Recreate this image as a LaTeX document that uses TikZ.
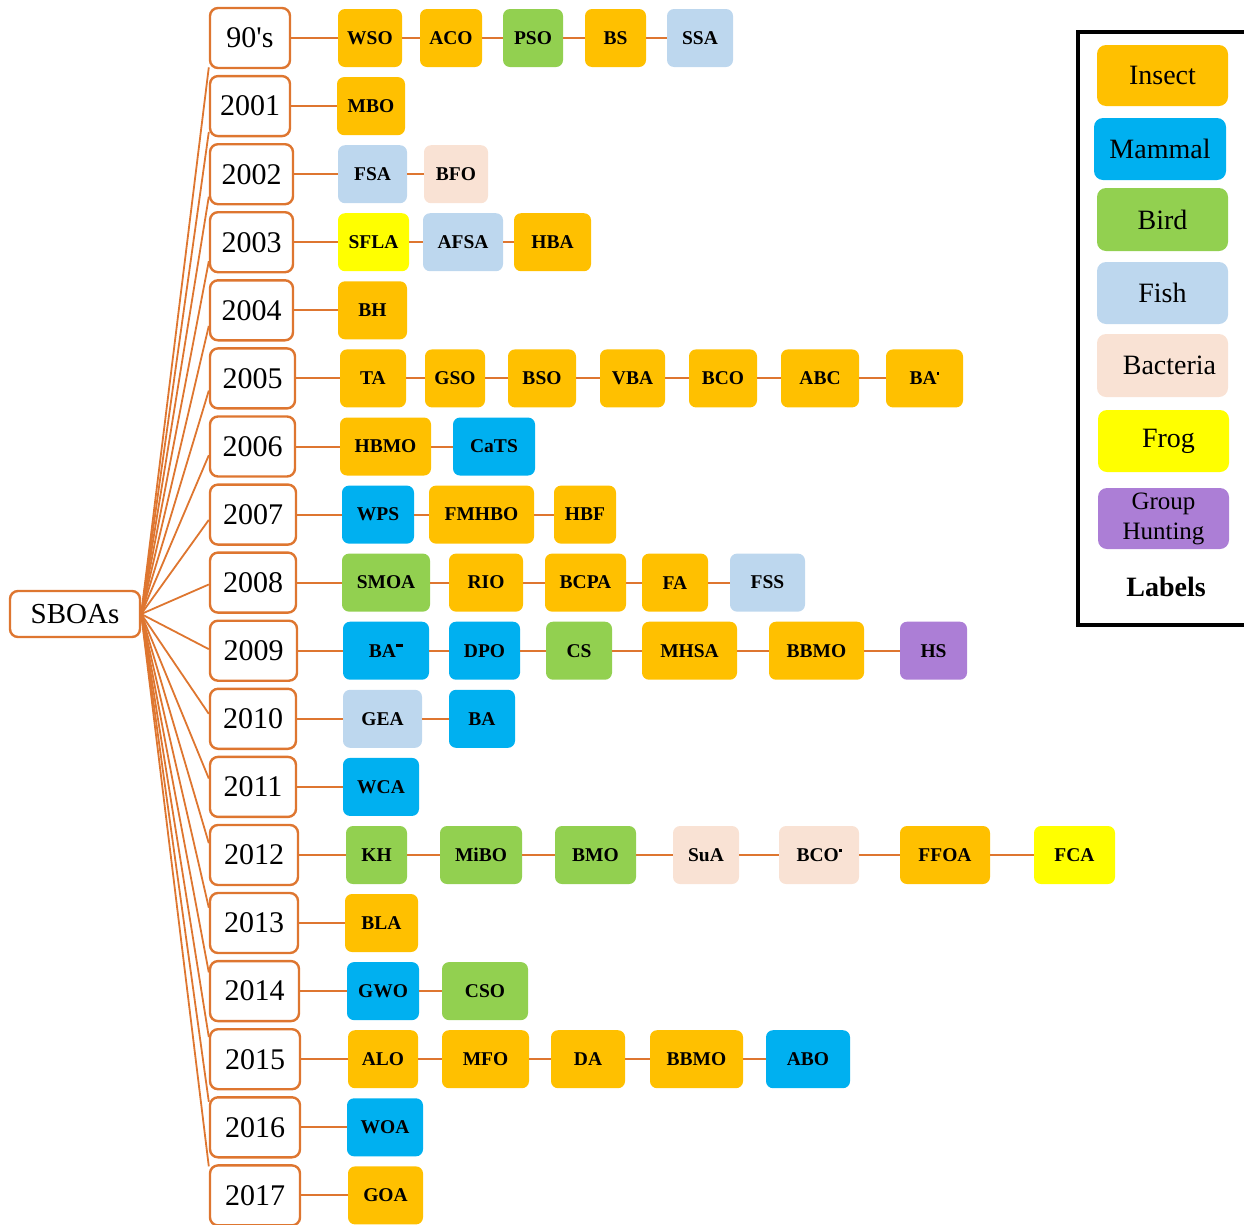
\documentclass[tikz,border=0pt]{standalone}
\usepackage{fontspec}
\setmainfont{Liberation Serif}
\usetikzlibrary{calc}
\definecolor{org}{RGB}{222,118,48}
\definecolor{cIns}{RGB}{255,192,0}
\definecolor{cMam}{RGB}{0,176,240}
\definecolor{cBird}{RGB}{146,208,80}
\definecolor{cFish}{RGB}{189,215,238}
\definecolor{cBac}{RGB}{249,226,212}
\definecolor{cFrog}{RGB}{255,255,0}
\definecolor{cGrp}{RGB}{172,126,214}
\newcommand{\sdot}{\raisebox{0.5em}{\rule{0.14em}{0.14em}}}
\newcommand{\sbar}{\raisebox{0.52em}{\rule{0.38em}{0.14em}}}
\tikzset{
  yr/.style={draw=org, line width=2.4pt, rounded corners=8pt, fill=white, minimum height=60pt, inner sep=0pt, font=\fontsize{30}{34}\selectfont},
  cb/.style={rounded corners=7pt, minimum height=58pt, inner sep=0pt, font=\fontsize{19.5}{22}\selectfont\bfseries},
  ins/.style={cb, fill=cIns}, mam/.style={cb, fill=cMam}, bird/.style={cb, fill=cBird},
  fish/.style={cb, fill=cFish}, bac/.style={cb, fill=cBac}, frog/.style={cb, fill=cFrog}, grp/.style={cb, fill=cGrp},
  lg/.style={rounded corners=9pt, inner sep=0pt, font=\fontsize{28}{32}\selectfont},
  conn/.style={draw=org, line width=2pt},
  fan/.style={draw=org, line width=1.8pt},
}
\begin{document}
\begin{tikzpicture}[x=1pt,y=-1pt]
\useasboundingbox (0,0) rectangle (1244,1224);
% root
\node[yr, minimum width=130pt, minimum height=46pt, font=\fontsize{29}{34}\selectfont] (S) at (75,614) {SBOAs};
% years
\node[yr, minimum width=80pt] (y0) at (250,38) {90\textquotesingle s};
\node[yr, minimum width=80pt] (y1) at (250,106.1) {2001};
\node[yr, minimum width=83pt] (y2) at (251.5,174.2) {2002};
\node[yr, minimum width=83pt] (y3) at (251.5,242.2) {2003};
\node[yr, minimum width=83pt] (y4) at (251.5,310.3) {2004};
\node[yr, minimum width=85pt] (y5) at (252.5,378.4) {2005};
\node[yr, minimum width=85pt] (y6) at (252.5,446.5) {2006};
\node[yr, minimum width=86pt] (y7) at (253,514.6) {2007};
\node[yr, minimum width=86pt] (y8) at (253,582.6) {2008};
\node[yr, minimum width=87pt] (y9) at (253.5,650.7) {2009};
\node[yr, minimum width=86pt] (y10) at (253,718.8) {2010};
\node[yr, minimum width=86pt] (y11) at (253,786.9) {2011};
\node[yr, minimum width=88pt] (y12) at (254,855) {2012};
\node[yr, minimum width=88pt] (y13) at (254,923) {2013};
\node[yr, minimum width=89pt] (y14) at (254.5,991.1) {2014};
\node[yr, minimum width=90pt] (y15) at (255,1059.2) {2015};
\node[yr, minimum width=90pt] (y16) at (255,1127.3) {2016};
\node[yr, minimum width=90pt] (y17) at (255,1195.4) {2017};
% fan
\foreach \i in {0,...,17}{
  \pgfmathsetmacro{\f}{0.03+0.055*\i}
  \draw[fan] (S.east) -- ($(y\i.south west)!\f!(y\i.north west)$);
}
% row 0
\node[ins, minimum width=64pt] (r0a) at (370,38) {WSO};
\node[ins, minimum width=62pt] (r0b) at (451,38) {ACO};
\node[bird, minimum width=60pt] (r0c) at (533,38) {PSO};
\node[ins, minimum width=61pt] (r0d) at (615.5,38) {BS};
\node[fish, minimum width=66pt] (r0e) at (700,38) {SSA};
\draw[conn] (y0) -- (r0a) -- (r0b) -- (r0c) -- (r0d) -- (r0e);
% row 1
\node[ins, minimum width=68pt] (r1a) at (371,106.1) {MBO};
\draw[conn] (y1) -- (r1a);
% row 2
\node[fish, minimum width=69pt] (r2a) at (372.5,174.2) {FSA};
\node[bac, minimum width=64pt] (r2b) at (456,174.2) {BFO};
\draw[conn] (y2) -- (r2a) -- (r2b);
% row 3
\node[frog, minimum width=71pt] (r3a) at (373.5,242.2) {SFLA};
\node[fish, minimum width=80pt] (r3b) at (463,242.2) {AFSA};
\node[ins, minimum width=77pt] (r3c) at (552.5,242.2) {HBA};
\draw[conn] (y3) -- (r3a) -- (r3b) -- (r3c);
% row 4
\node[ins, minimum width=69pt] (r4a) at (372.5,310.3) {BH};
\draw[conn] (y4) -- (r4a);
% row 5
\node[ins, minimum width=66pt] (r5a) at (373,378.4) {TA};
\node[ins, minimum width=60pt] (r5b) at (455,378.4) {GSO};
\node[ins, minimum width=68pt] (r5c) at (542,378.4) {BSO};
\node[ins, minimum width=65pt] (r5d) at (632.5,378.4) {VBA};
\node[ins, minimum width=68pt] (r5e) at (723,378.4) {BCO};
\node[ins, minimum width=78pt] (r5f) at (820,378.4) {ABC};
\node[ins, minimum width=77pt] (r5g) at (924.5,378.4) {BA\sdot};
\draw[conn] (y5) -- (r5a) -- (r5b) -- (r5c) -- (r5d) -- (r5e) -- (r5f) -- (r5g);
% row 6
\node[ins, minimum width=91pt] (r6a) at (385.5,446.5) {HBMO};
\node[mam, minimum width=82pt] (r6b) at (494,446.5) {CaTS};
\draw[conn] (y6) -- (r6a) -- (r6b);
% row 7
\node[mam, minimum width=72pt] (r7a) at (378,514.6) {WPS};
\node[ins, minimum width=105pt] (r7b) at (481.5,514.6) {FMHBO};
\node[ins, minimum width=62pt] (r7c) at (585,514.6) {HBF};
\draw[conn] (y7) -- (r7a) -- (r7b) -- (r7c);
% row 8
\node[bird, minimum width=88pt] (r8a) at (386,582.6) {SMOA};
\node[ins, minimum width=74pt] (r8b) at (486,582.6) {RIO};
\node[ins, minimum width=81pt] (r8c) at (585.5,582.6) {BCPA};
\node[ins, minimum width=66pt] (r8d) at (675,582.6) {FA};
\node[fish, minimum width=75pt] (r8e) at (767.5,582.6) {FSS};
\draw[conn] (y8) -- (r8a) -- (r8b) -- (r8c) -- (r8d) -- (r8e);
% row 9
\node[mam, minimum width=86pt] (r9a) at (386,650.7) {BA\sbar};
\node[mam, minimum width=71pt] (r9b) at (484.5,650.7) {DPO};
\node[bird, minimum width=66pt] (r9c) at (579,650.7) {CS};
\node[ins, minimum width=95pt] (r9d) at (689.5,650.7) {MHSA};
\node[ins, minimum width=95pt] (r9e) at (816.5,650.7) {BBMO};
\node[grp, minimum width=67pt] (r9f) at (933.5,650.7) {HS};
\draw[conn] (y9) -- (r9a) -- (r9b) -- (r9c) -- (r9d) -- (r9e) -- (r9f);
% row 10
\node[fish, minimum width=79pt] (r10a) at (382.5,718.8) {GEA};
\node[mam, minimum width=66pt] (r10b) at (482,718.8) {BA};
\draw[conn] (y10) -- (r10a) -- (r10b);
% row 11
\node[mam, minimum width=76pt] (r11a) at (381,786.9) {WCA};
\draw[conn] (y11) -- (r11a);
% row 12
\node[bird, minimum width=61pt] (r12a) at (376.5,855) {KH};
\node[bird, minimum width=82pt] (r12b) at (481,855) {MiBO};
\node[bird, minimum width=81pt] (r12c) at (595.5,855) {BMO};
\node[bac, minimum width=66pt] (r12d) at (706,855) {SuA};
\node[bac, minimum width=80pt] (r12e) at (819,855) {BCO\sdot};
\node[ins, minimum width=90pt] (r12f) at (945,855) {FFOA};
\node[frog, minimum width=81pt] (r12g) at (1074.5,855) {FCA};
\draw[conn] (y12) -- (r12a) -- (r12b) -- (r12c) -- (r12d) -- (r12e) -- (r12f) -- (r12g);
% row 13
\node[ins, minimum width=73pt] (r13a) at (381.5,923) {BLA};
\draw[conn] (y13) -- (r13a);
% row 14
\node[mam, minimum width=72pt] (r14a) at (383,991.1) {GWO};
\node[bird, minimum width=86pt] (r14b) at (485,991.1) {CSO};
\draw[conn] (y14) -- (r14a) -- (r14b);
% row 15
\node[ins, minimum width=70pt] (r15a) at (383,1059.2) {ALO};
\node[ins, minimum width=87pt] (r15b) at (485.5,1059.2) {MFO};
\node[ins, minimum width=74pt] (r15c) at (588,1059.2) {DA};
\node[ins, minimum width=93pt] (r15d) at (696.5,1059.2) {BBMO};
\node[mam, minimum width=84pt] (r15e) at (808,1059.2) {ABO};
\draw[conn] (y15) -- (r15a) -- (r15b) -- (r15c) -- (r15d) -- (r15e);
% row 16
\node[mam, minimum width=76pt] (r16a) at (385,1127.3) {WOA};
\draw[conn] (y16) -- (r16a);
% row 17
\node[ins, minimum width=75pt] (r17a) at (385.5,1195.4) {GOA};
\draw[conn] (y17) -- (r17a);
% legend
\draw[line width=3.5pt] (1078,32) rectangle (1260,625);
\node[lg, fill=cIns, minimum width=131pt, minimum height=61pt] (l1) at (1162.5,75.5) {Insect};
\node[lg, fill=cMam, minimum width=132pt, minimum height=62pt] (l2) at (1160,149) {Mammal};
\node[lg, fill=cBird, minimum width=131pt, minimum height=63pt] (l3) at (1162.5,219.5) {Bird};
\node[lg, fill=cFish, minimum width=131pt, minimum height=62pt] (l4) at (1162.5,293) {Fish};
\node[lg, fill=cBac, minimum width=131pt, minimum height=63pt] (l5) at (1162.5,365.5) {\hspace*{14pt}Bacteria};
\node[lg, fill=cFrog, minimum width=131pt, minimum height=62pt] (l6) at (1163.5,441) {\hspace*{10pt}Frog};
\node[lg, fill=cGrp, minimum width=131pt, minimum height=61pt, align=center, font=\fontsize{25}{30}\selectfont] (l7) at (1163.5,518.5) {Group\\Hunting};
\node[font=\fontsize{28}{32}\selectfont\bfseries] (l8) at (1166,587) {Labels};
\end{tikzpicture}
\end{document}
